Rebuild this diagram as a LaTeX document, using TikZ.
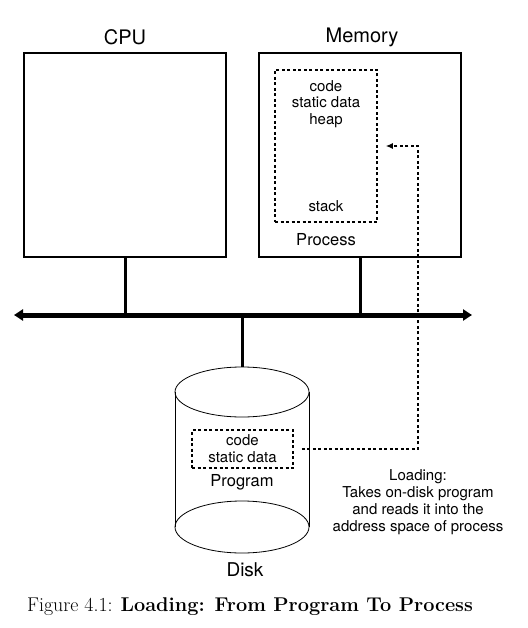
\documentclass[tikz,border=0pt]{standalone}
\usepackage{fontspec}
\setsansfont{TeX Gyre Heros}
\usetikzlibrary{arrows.meta,positioning}

\tikzset{
  unitbox/.style={draw, line width=1.5pt, minimum width=202pt, minimum height=204pt},
  title/.style={font=\sffamily\fontsize{20}{24}\selectfont},
  small/.style={font=\sffamily\fontsize{15}{16.8}\selectfont, align=center, inner sep=0pt},
  mid/.style={font=\sffamily\fontsize{16.5}{19}\selectfont, inner sep=0pt},
  dotbox/.style={draw, line width=1.5pt, dash pattern=on 3pt off 2.5pt},
  busline/.style={line width=5pt, {Triangle[length=9pt,width=11pt]}-{Triangle[length=9pt,width=11pt]}},
  tap/.style={line width=3pt},
  loadline/.style={line width=1.5pt, dash pattern=on 3pt off 2.5pt, -{Latex[length=7pt,width=6pt]}},
  thin/.style={line width=0.8pt}
}

\begin{document}
\begin{tikzpicture}[x=1pt, y=-1pt]
  \useasboundingbox (0,0) rectangle (527,628);

  % CPU and memory
  \node[unitbox] (cpu) at (125,155) {};
  \node[unitbox] (mem) at (360,155) {};
  \node[title] (cpulbl) at (125,37) {CPU};
  \node[title] (memlbl) at (362,37) {Memory};

  % process in memory
  \node[dotbox, minimum width=102pt, minimum height=152pt] (proc) at (326,146) {};
  \node[small] (procseg) at (326,104) {code\\static data\\heap};
  \node[small] (stack) at (326,206) {stack};
  \node[mid] (proclbl) at (326,240) {Process};

  % bus
  \coordinate (busL) at (14,315);
  \coordinate (busR) at (472,315);
  \draw[busline] (busL) -- (busR);
  \draw[tap] (cpu.south) -- (cpu.south |- busL);
  \draw[tap] (mem.south) -- (mem.south |- busL);

  % disk
  \coordinate (disktop) at (242,367);
  \draw[tap] (disktop |- busL) -- (disktop);
  \draw[thin] (242,392) ellipse (67 and 25);
  \draw[thin] (242,527) ellipse (67 and 26);
  \draw[thin] (175,392) -- (175,527);
  \draw[thin] (309,392) -- (309,527);
  \node[dotbox, small, minimum width=101pt, minimum height=38pt] (prog) at (242.5,449) {code\\static data};
  \node[mid] (proglbl) at (242,482) {Program};
  \node[title, font=\sffamily\fontsize{19}{22}\selectfont] (disklbl) at (245,570) {Disk};

  % loading
  \coordinate (turn) at (418,146);
  \draw[loadline, shorten <=8pt, shorten >=8pt] (prog.east) -- (prog.east -| turn) -- (turn) -- (proc.east |- turn);
  \node[small] (loadtxt) at (418,502) {Loading:\\Takes on-disk program\\and reads it into the\\address space of process};

  % caption
  \node[font=\fontsize{19.9}{23}\selectfont] (caption) at (250,607) {Figure 4.1: \textbf{Loading: From Program To Process}};
\end{tikzpicture}
\end{document}
